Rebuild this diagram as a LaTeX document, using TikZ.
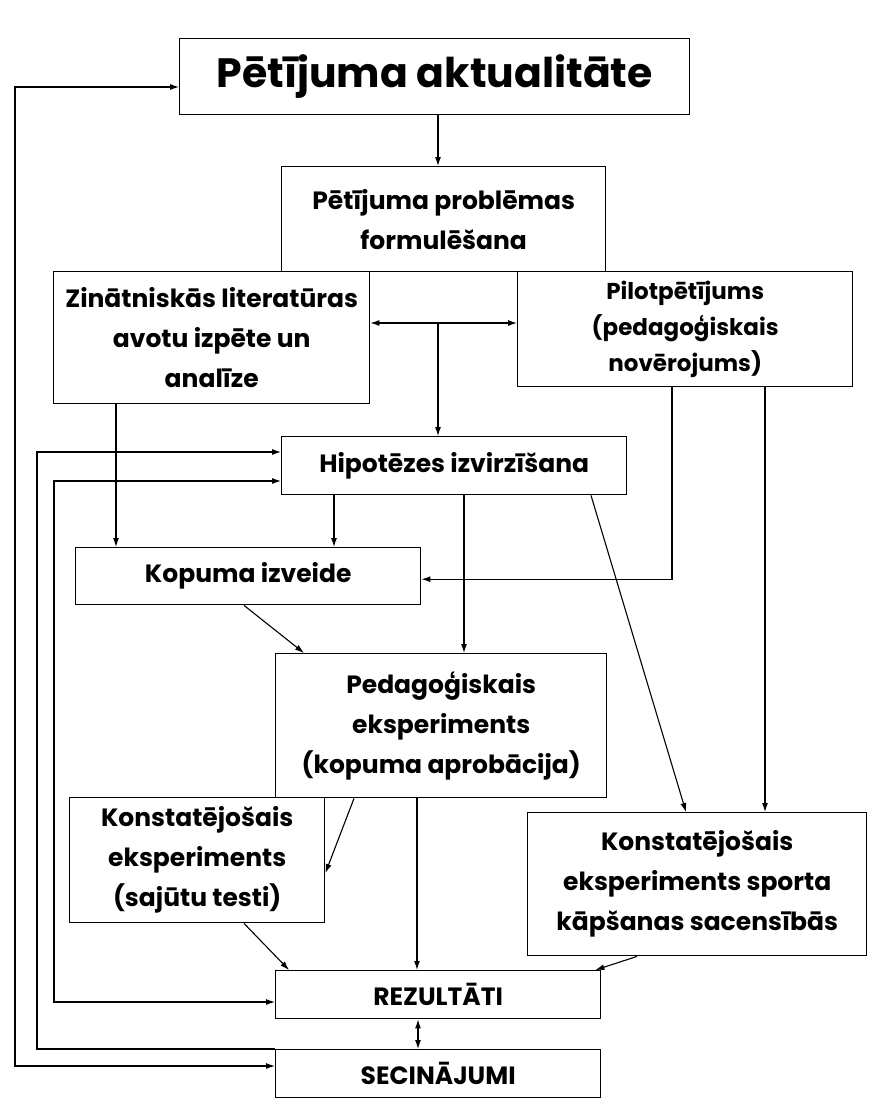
\documentclass[tikz,border=0pt]{standalone}
\usepackage{fontspec}
\setmainfont{Poppins}
\usetikzlibrary{arrows.meta,calc}
\tikzset{
  box/.style={draw=black, line width=1.4pt, anchor=north west, align=center, inner sep=0pt,
    font=\bfseries\fontsize{25}{40}\selectfont},
  capsbox/.style={box, font=\bfseries\fontsize{25}{28}\selectfont},
  arr/.style={draw=black, line width=1.1pt, -{Latex[length=9pt,width=6pt]}},
  darr/.style={draw=black, line width=1.1pt, {Latex[length=9pt,width=6pt]}-{Latex[length=9pt,width=6pt]}},
  ln/.style={draw=black, line width=1.1pt}
}
\begin{document}
\begin{tikzpicture}[x=1pt,y=-1pt]
\fill[white] (0,0) rectangle (869,1108);
\useasboundingbox (0,0) rectangle (869,1108);
% boxes
\node[box, minimum width=510pt, minimum height=76pt, font=\bfseries\fontsize{41}{48}\selectfont] (akt) at (179,38) {Pētījuma aktualitāte};
\node[box, minimum width=324pt, minimum height=105pt] (prob) at (281,166) {Pētījuma problēmas\\formulēšana};
\node[box, minimum width=316pt, minimum height=132pt] (zin) at (53,271) {Zinātniskās literatūras\\avotu izpēte un\\analīze};
\node[box, minimum width=335pt, minimum height=115pt, font=\bfseries\fontsize{23}{36}\selectfont] (pilot) at (517,271) {Pilotpētījums\\(pedagoģiskais\\novērojums)};
\node[box, minimum width=345pt, minimum height=58pt] (hip) at (281,436) {Hipotēzes izvirzīšana};
\node[box, minimum width=345pt, minimum height=57pt] (kop) at (75,547) {Kopuma izveide};
\node[box, minimum width=331pt, minimum height=144pt] (ped) at (275,653) {Pedagoģiskais\\eksperiments\\(kopuma aprobācija)};
\node[box, minimum width=255pt, minimum height=125pt] (kon) at (69,797) {Konstatējošais\\eksperiments\\(sajūtu testi)};
\node[box, minimum width=339pt, minimum height=143pt] (sport) at (527,812) {Konstatējošais\\eksperiments sporta\\kāpšanas sacensībās};
\node[capsbox, minimum width=325pt, minimum height=48pt] (rez) at (275,970) {REZULTĀTI};
\node[capsbox, minimum width=325pt, minimum height=48pt] (sec) at (275,1049) {SECINĀJUMI};
% junction coordinates
\coordinate (M) at (438,323);
\coordinate (A) at (37,452);
\coordinate (B1) at (54,481);
\coordinate (B2) at (54,1002);
\coordinate (C1) at (15,87);
\coordinate (C2) at (15,1066);
% connectors
\draw[arr] (akt.south -| M) -- (prob.north -| M);
\draw[darr] (zin.east |- M) -- (pilot.west |- M);
\draw[arr] (M) -- (M |- hip.north);
\draw[arr] ([xshift=63pt]zin.south west) -- ([xshift=63pt]zin.south west |- kop.north);
\draw[arr] ([xshift=53pt]hip.south west) -- ([xshift=53pt]hip.south west |- kop.north);
\draw[arr] ([xshift=155pt]pilot.south west) |- ([yshift=-3pt]kop.east);
\draw[arr] ([xshift=248pt]pilot.south west) -- ([xshift=248pt]pilot.south west |- sport.north);
\draw[arr] ([xshift=183pt]hip.south west) -- ([xshift=183pt]hip.south west |- ped.north);
\draw[arr] ([xshift=310pt]hip.south west) -- ([xshift=159pt]sport.north west);
\draw[arr] ([xshift=169pt]kop.south west) -- ([xshift=29pt]ped.north west);
\draw[arr] ([xshift=79pt]ped.south west) -- ([yshift=-76pt]kon.north east);
\draw[arr] ([xshift=142pt]ped.south west) -- ([xshift=142pt]ped.south west |- rez.north);
\draw[arr] ([xshift=175pt]kon.south west) -- ([xshift=14pt]rez.north west);
\draw[arr] ([xshift=110pt]sport.south west) -- ([xshift=-6pt]rez.north east);
\draw[darr] ([xshift=143pt]rez.south west) -- ([xshift=143pt]rez.south west |- sec.north);
\draw[arr] (sec.north west) -| (A) -- (A -| hip.west);
\draw[darr] (hip.west |- B1) -- (B1) -- (B2) -- (rez.west |- B2);
\draw[darr] (akt.west |- C1) -- (C1) -- (C2) -- (sec.west |- C2);
\end{tikzpicture}
\end{document}
